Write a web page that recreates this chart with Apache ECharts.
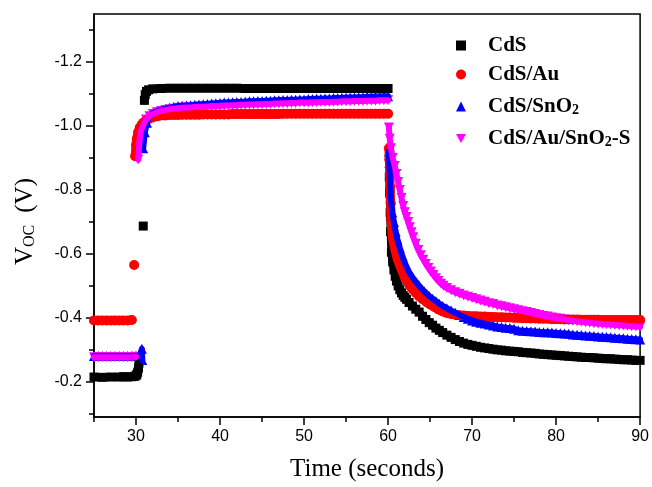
<!DOCTYPE html>
<html>
<head>
<meta charset="utf-8">
<script src="https://cdn.jsdelivr.net/npm/echarts@6/dist/echarts.min.js"></script>
<style>
html,body{margin:0;padding:0;background:#fff}
#chart{width:652px;height:487px}
</style>
</head>
<body>
<div id="chart"></div>
<script>
// Open-circuit voltage transients: light switched on near 30 s and off near 60 s
const seriesNames = ['CdS', 'CdS/Au', 'CdS/SnO2', 'CdS/Au/SnO2-S'];

const xMajorTicks = [30, 40, 50, 60, 70, 80, 90];
const xMinorTicks = [25, 35, 45, 55, 65, 75, 85];
const yMajorTicks = [-1.2, -1.0, -0.8, -0.6, -0.4, -0.2];
const yMinorTicks = [-1.3, -1.1, -0.9, -0.7, -0.5, -0.3, -0.1];

// [time (s), Voc (V)]
const cds = [
  [25,-0.215],[26,-0.214],[27,-0.215],[28,-0.215],[28.5,-0.216],[29,-0.215],[29.5,-0.216],[29.8,-0.217],[30,-0.219],[30.1,-0.223],[30.2,-0.23],[30.3,-0.243],[30.35,-0.258],
  [30.86,-0.687],
  [31.0,-1.08],[31.1,-1.098],[31.25,-1.108],[31.5,-1.113],[32,-1.116],[33,-1.117],[34,-1.118],[35,-1.118],[36,-1.118],[37,-1.118],[38,-1.118],[39,-1.118],[40,-1.118],
  [41,-1.118],[42,-1.118],[43,-1.117],[44,-1.117],[45,-1.117],[46,-1.117],[47,-1.117],[48,-1.117],[49,-1.117],[50,-1.117],[51,-1.117],[52,-1.117],[53,-1.117],
  [54,-1.117],[55,-1.117],[56,-1.117],[57,-1.117],[58,-1.117],[59,-1.117],[60,-1.117],
  [60.15,-0.84],[60.2,-0.79],[60.25,-0.73],[60.3,-0.67],[60.4,-0.605],[60.55,-0.575],[60.7,-0.55],[60.85,-0.53],[61.0,-0.515],[61.2,-0.50],[61.4,-0.488],
  [61.6,-0.478],[61.8,-0.47],[62.0,-0.464],[62.2,-0.458],[62.5,-0.448],[62.9,-0.437],[63.3,-0.427],[63.7,-0.418],[64.1,-0.405],[64.5,-0.395],[64.9,-0.385],
  [65.3,-0.377],[65.7,-0.368],[66.1,-0.361],[66.5,-0.354],[67.0,-0.346],[67.5,-0.339],[68.0,-0.332],[68.5,-0.326],[69.0,-0.321],[69.5,-0.317],[70.0,-0.314],
  [70.5,-0.311],[71.0,-0.308],[71.5,-0.306],[72.0,-0.304],[72.5,-0.302],[73,-0.300],[73.5,-0.299],[74,-0.297],[74.5,-0.296],[75,-0.295],[75.5,-0.294],
  [76,-0.292],[76.5,-0.291],[77,-0.290],[77.5,-0.289],[78,-0.287],[78.5,-0.286],[79,-0.285],[79.5,-0.284],[80,-0.283],[80.5,-0.282],[81,-0.281],[81.5,-0.280],
  [82,-0.279],[82.5,-0.278],[83,-0.277],[83.5,-0.276],[84,-0.276],[84.5,-0.275],[85,-0.274],[85.5,-0.273],[86,-0.272],[86.5,-0.272],[87,-0.271],[87.5,-0.270],
  [88,-0.269],[88.5,-0.269],[89,-0.268],[89.5,-0.267],[90,-0.267]
];

const cdsAu = [
  [25,-0.392],[25.5,-0.392],[26,-0.392],[26.5,-0.392],[27,-0.392],[27.5,-0.392],[28,-0.392],[28.5,-0.392],[29,-0.392],[29.5,-0.393],
  [29.78,-0.565],
  [29.9,-0.905],[30.0,-0.94],[30.1,-0.96],[30.25,-0.98],[30.45,-0.995],[30.7,-1.005],[31.0,-1.013],[31.3,-1.019],[31.6,-1.023],[32.0,-1.027],[32.5,-1.03],
  [33,-1.033],[33.5,-1.033],[34,-1.034],[34.5,-1.034],[35,-1.034],[35.5,-1.035],[36,-1.035],[36.5,-1.035],[37,-1.035],[37.5,-1.035],[38,-1.036],[38.5,-1.036],
  [39,-1.036],[39.5,-1.036],[40,-1.036],[40.5,-1.036],[41,-1.036],[41.5,-1.037],[42,-1.037],[42.5,-1.037],[43,-1.037],[43.5,-1.037],[44,-1.037],[44.5,-1.037],
  [45,-1.037],[45.5,-1.037],[46,-1.037],[46.5,-1.037],[47,-1.037],[47.5,-1.038],[48,-1.038],[48.5,-1.038],[49,-1.038],[49.5,-1.038],[50,-1.038],[50.5,-1.038],
  [51,-1.038],[51.5,-1.038],[52,-1.038],[52.5,-1.038],[53,-1.038],[53.5,-1.038],[54,-1.038],[54.5,-1.038],[55,-1.038],[55.5,-1.038],[56,-1.038],[56.5,-1.038],
  [57,-1.038],[57.5,-1.038],[58,-1.038],[58.5,-1.038],[59,-1.038],[59.5,-1.038],[60,-1.038],
  [60.1,-0.93],[60.15,-0.895],[60.2,-0.85],[60.25,-0.81],[60.3,-0.76],[60.35,-0.71],[60.45,-0.67],[60.55,-0.646],[60.7,-0.625],[60.9,-0.604],[61.1,-0.584],
  [61.4,-0.562],[61.7,-0.543],[62.0,-0.527],[62.3,-0.512],[62.6,-0.50],[62.9,-0.49],[63.3,-0.478],[63.7,-0.467],[64.1,-0.458],[64.6,-0.449],[65.0,-0.442],
  [65.5,-0.434],[66.0,-0.426],[66.5,-0.42],[67.0,-0.415],[67.5,-0.412],[68.0,-0.41],[68.5,-0.408],[69,-0.407],[69.5,-0.406],[70,-0.405],[70.5,-0.405],
  [71,-0.404],[71.5,-0.404],[72,-0.403],[72.5,-0.403],[73,-0.402],[73.5,-0.402],[74,-0.401],[74.5,-0.401],[75,-0.400],[75.5,-0.400],[76,-0.399],[76.5,-0.399],
  [77,-0.398],[77.5,-0.398],[78,-0.397],[78.5,-0.397],[79,-0.397],[79.5,-0.396],[80,-0.396],[80.5,-0.396],[81,-0.395],[81.5,-0.395],[82,-0.395],[82.5,-0.395],
  [83,-0.394],[83.5,-0.394],[84,-0.394],[84.5,-0.394],[85,-0.394],[85.5,-0.393],[86,-0.393],[86.5,-0.393],[87,-0.393],[87.5,-0.393],[88,-0.393],[88.5,-0.393],
  [89,-0.393],[89.5,-0.393],[90,-0.393]
];

const cdsSnO2 = [
  [25,-0.281],[25.5,-0.281],[26,-0.281],[26.5,-0.281],[27,-0.281],[27.5,-0.281],[28,-0.281],[28.5,-0.281],[29,-0.281],[29.5,-0.281],[30,-0.281],[30.5,-0.282],
  [30.7,-0.303],[30.75,-0.268],
  [30.85,-0.93],[31.05,-0.98],[31.3,-1.01],[31.6,-1.028],[32,-1.04],[32.5,-1.046],[33,-1.05],[33.5,-1.054],[34,-1.057],[34.5,-1.06],[35,-1.062],
  [35.5,-1.063],[36,-1.064],[36.5,-1.065],[37,-1.066],[37.5,-1.067],[38,-1.068],[38.5,-1.069],[39,-1.070],[39.5,-1.071],[40,-1.072],[40.5,-1.073],[41,-1.073],
  [41.5,-1.074],[42,-1.075],[42.5,-1.075],[43,-1.076],[43.5,-1.077],[44,-1.077],[44.5,-1.078],[45,-1.078],[45.5,-1.079],[46,-1.079],[46.5,-1.080],[47,-1.080],
  [47.5,-1.081],[48,-1.081],[48.5,-1.082],[49,-1.082],[49.5,-1.083],[50,-1.083],[50.5,-1.084],[51,-1.084],[51.5,-1.085],[52,-1.085],[52.5,-1.086],[53,-1.086],
  [53.5,-1.087],[54,-1.087],[54.5,-1.088],[55,-1.088],[55.5,-1.089],[56,-1.089],[56.5,-1.090],[57,-1.090],[57.5,-1.091],[58,-1.091],[58.5,-1.092],[59,-1.092],
  [59.5,-1.093],[60,-1.093],
  [60.1,-0.92],[60.15,-0.885],[60.2,-0.85],[60.25,-0.81],[60.35,-0.77],[60.5,-0.73],[60.7,-0.70],[60.9,-0.67],[61.1,-0.646],[61.4,-0.618],[61.7,-0.593],
  [62.1,-0.565],[62.5,-0.543],[62.9,-0.527],[63.3,-0.513],[63.7,-0.50],[64.0,-0.491],[64.3,-0.483],[64.6,-0.475],[64.9,-0.468],[65.3,-0.46],[65.7,-0.452],
  [66.1,-0.444],[66.5,-0.437],[67.0,-0.43],[67.5,-0.423],[68.0,-0.416],[68.5,-0.409],[69.0,-0.403],[69.5,-0.397],[70,-0.392],[70.5,-0.388],[71,-0.385],
  [71.5,-0.382],[72,-0.379],[72.5,-0.376],[73,-0.373],[73.5,-0.371],[74,-0.369],[74.5,-0.368],[75,-0.366],[75.5,-0.361],[76,-0.36],[76.5,-0.359],[77,-0.358],
  [77.5,-0.357],[78,-0.356],[78.5,-0.355],[79,-0.355],[79.5,-0.354],[80,-0.353],[80.5,-0.352],[81,-0.351],[81.5,-0.35],[82,-0.348],[82.5,-0.347],[83,-0.346],
  [83.5,-0.345],[84,-0.344],[84.5,-0.343],[85,-0.342],[85.5,-0.341],[86,-0.34],[86.5,-0.339],[87,-0.338],[87.5,-0.337],[88,-0.336],[88.5,-0.335],[89,-0.334],
  [89.5,-0.333],[90,-0.332]
];

const cdsAuSnO2S = [
  [25,-0.277],[25.5,-0.277],[26,-0.277],[26.5,-0.277],[27,-0.277],[27.5,-0.277],[28,-0.277],[28.5,-0.277],[29,-0.277],[29.5,-0.277],[30,-0.278],
  [30.26,-0.895],[30.4,-0.95],[30.6,-0.985],[30.9,-1.005],[31.2,-1.02],[31.6,-1.03],[32,-1.037],[32.5,-1.043],[33,-1.047],[33.5,-1.05],[34,-1.052],
  [34.5,-1.054],[35,-1.056],[35.5,-1.057],[36,-1.058],[36.5,-1.058],[37,-1.059],[37.5,-1.060],[38,-1.060],[38.5,-1.061],[39,-1.062],[39.5,-1.062],[40,-1.063],
  [40.5,-1.064],[41,-1.064],[41.5,-1.065],[42,-1.065],[42.5,-1.066],[43,-1.066],[43.5,-1.067],[44,-1.067],[44.5,-1.068],[45,-1.068],[45.5,-1.069],[46,-1.069],
  [46.5,-1.070],[47,-1.070],[47.5,-1.071],[48,-1.071],[48.5,-1.072],[49,-1.072],[49.5,-1.073],[50,-1.073],[50.5,-1.073],[51,-1.074],[51.5,-1.074],[52,-1.075],
  [52.5,-1.075],[53,-1.075],[53.5,-1.076],[54,-1.076],[54.5,-1.077],[55,-1.077],[55.5,-1.077],[56,-1.078],[56.5,-1.078],[57,-1.078],[57.5,-1.079],[58,-1.079],
  [58.5,-1.079],[59,-1.080],[59.5,-1.080],[60,-1.080],
  [60.1,-0.995],[60.2,-0.96],[60.35,-0.93],[60.55,-0.90],[60.8,-0.875],[61.0,-0.85],[61.2,-0.825],[61.4,-0.80],[61.6,-0.775],[61.8,-0.75],[62.0,-0.73],
  [62.2,-0.715],[62.4,-0.70],[62.6,-0.683],[62.8,-0.668],[63.0,-0.652],[63.3,-0.632],[63.6,-0.612],[63.9,-0.596],[64.2,-0.582],[64.5,-0.568],[64.8,-0.556],
  [65.1,-0.545],[65.4,-0.534],[65.7,-0.524],[66.0,-0.515],[66.3,-0.507],[66.6,-0.50],[67,-0.493],[67.5,-0.486],[68,-0.480],[68.5,-0.475],[69,-0.470],
  [69.5,-0.466],[70,-0.462],[70.5,-0.458],[71,-0.454],[71.5,-0.450],[72,-0.446],[72.5,-0.443],[73,-0.439],[73.5,-0.436],[74,-0.433],[74.5,-0.43],[75,-0.427],
  [75.5,-0.424],[76,-0.421],[76.5,-0.418],[77,-0.415],[77.5,-0.412],[78,-0.409],[78.5,-0.406],[79,-0.404],[79.5,-0.401],[80,-0.399],[80.5,-0.397],[81,-0.395],
  [81.5,-0.393],[82,-0.391],[82.5,-0.389],[83,-0.388],[83.5,-0.386],[84,-0.385],[84.5,-0.383],[85,-0.382],[85.5,-0.381],[86,-0.380],[86.5,-0.379],[87,-0.378],
  [87.5,-0.377],[88,-0.376],[88.5,-0.375],[89,-0.374],[89.5,-0.373],[90,-0.372]
];

const seriesData = [cds, cdsAu, cdsSnO2, cdsAuSnO2S];
const seriesColors = ['#000000', '#ff0000', '#0000ff', '#ff00ff'];
const seriesSymbols = ['rect', 'circle', 'triangle', 'path://M0,0 L10,0 L5,9 Z'];
const seriesSymbolSizes = [9, 10, 10, 10];
const bandWidths = [8, 9, 6, 6];

// Samples are dense enough to merge into solid bands; a trace under the markers
// fills the small gaps, broken wherever consecutive samples jump apart.
function bandTrace(data, maxStep) {
  const out = [];
  for (let i = 0; i < data.length; i++) {
    if (i > 0 && Math.abs(data[i][1] - data[i - 1][1]) > maxStep) out.push([data[i][0], '-']);
    out.push(data[i]);
  }
  return out;
}

function legendLabel(name) {
  if (name === 'CdS/SnO2') return '{g|}{t|CdS/SnO}{s|2}';
  if (name === 'CdS/Au/SnO2-S') return '{g|}{t|CdS/Au/SnO}{s|2}{t|-S}';
  return '{g|}{t|' + name + '}';
}

const serif = 'Liberation Serif, Times New Roman, serif';
const tickFont = { fontFamily: 'Liberation Sans, Arial, sans-serif', fontSize: 16, color: '#000' };
const axisLine = { show: true, onZero: false, lineStyle: { color: '#000', width: 1.5 } };

const series = [];
seriesNames.forEach((name, i) => {
  series.push({
    name: name + ' trace',
    type: 'line',
    silent: true,
    showSymbol: false,
    symbol: 'none',
    connectNulls: false,
    lineStyle: { color: seriesColors[i], width: bandWidths[i], cap: 'round', join: 'round' },
    emphasis: { disabled: true },
    data: bandTrace(seriesData[i], 0.07)
  });
  series.push({
    name: name,
    type: 'scatter',
    symbol: seriesSymbols[i],
    symbolSize: seriesSymbolSizes[i],
    itemStyle: { color: seriesColors[i], opacity: 1 },
    emphasis: { disabled: true },
    data: seriesData[i]
  });
});

const chart = echarts.init(document.getElementById('chart'), null, { renderer: 'canvas' });

chart.setOption({
  animation: false,
  backgroundColor: '#fff',
  grid: { left: 94, right: 11, top: 14, bottom: 69, show: true, borderColor: '#000', borderWidth: 1.5, backgroundColor: 'transparent' },
  legend: {
    orient: 'vertical',
    left: 451,
    top: 30,
    itemWidth: 10,
    itemHeight: 10,
    itemGap: 8,
    data: seriesNames,
    formatter: legendLabel,
    textStyle: {
      color: '#000',
      rich: {
        g: { width: 17 },
        t: { fontFamily: serif, fontWeight: 'bold', fontSize: 21, lineHeight: 21, color: '#000' },
        s: { fontFamily: serif, fontWeight: 'bold', fontSize: 14, lineHeight: 14, padding: [10, 0, 0, 0], verticalAlign: 'bottom', color: '#000' }
      }
    }
  },
  xAxis: [
    {
      type: 'value', min: 25, max: 90, position: 'bottom',
      name: 'Time (seconds)', nameLocation: 'middle', nameGap: 40,
      nameTextStyle: { fontFamily: serif, fontSize: 25, color: '#000' },
      axisLine: axisLine,
      axisTick: { show: true, inside: false, length: 8, customValues: xMajorTicks, lineStyle: { color: '#000', width: 1.5 } },
      axisLabel: { show: true, margin: 12, customValues: xMajorTicks, ...tickFont },
      splitLine: { show: false }
    },
    {
      type: 'value', min: 25, max: 90, position: 'bottom', offset: 0,
      axisLine: { show: false },
      axisTick: { show: true, inside: false, length: 5, customValues: xMinorTicks, lineStyle: { color: '#000', width: 1.5 } },
      axisLabel: { show: false },
      splitLine: { show: false }
    }
  ],
  yAxis: [
    {
      type: 'value', min: -1.35, max: -0.09, inverse: true, position: 'left',
      name: '{v|V}{s|OC}{g|}{v|(V)}{e|}', nameLocation: 'middle', nameGap: 56,
      nameTextStyle: {
        color: '#000',
        rich: {
          v: { fontFamily: serif, fontSize: 25, lineHeight: 25, color: '#000' },
          s: { fontFamily: serif, fontSize: 16, lineHeight: 16, padding: [14, 0, 0, 0], verticalAlign: 'bottom', color: '#000' },
          g: { width: 12 },
          e: { width: 12 }
        }
      },
      axisLine: axisLine,
      axisTick: { show: true, inside: false, length: 8, customValues: yMajorTicks, lineStyle: { color: '#000', width: 1.5 } },
      axisLabel: { show: true, margin: 12, customValues: yMajorTicks, formatter: v => v.toFixed(1), ...tickFont },
      splitLine: { show: false }
    },
    {
      type: 'value', min: -1.35, max: -0.09, inverse: true, position: 'left', offset: 0,
      axisLine: { show: false },
      axisTick: { show: true, inside: false, length: 5, customValues: yMinorTicks, lineStyle: { color: '#000', width: 1.5 } },
      axisLabel: { show: false },
      splitLine: { show: false }
    }
  ],
  series: series
});
</script>
</body>
</html>
